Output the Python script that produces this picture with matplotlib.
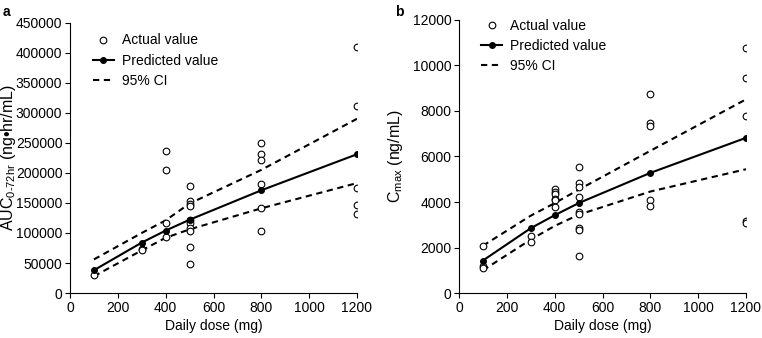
import matplotlib
matplotlib.use("Agg")
import matplotlib.pyplot as plt

plt.rcParams['font.family'] = ['Liberation Sans', 'DejaVu Sans']
plt.rcParams['mathtext.fontset'] = 'custom'
plt.rcParams['mathtext.rm'] = 'Liberation Sans'
plt.rcParams['font.size'] = 10

# dose levels for the model lines
doses = [100, 300, 400, 500, 800, 1200]

# panel a: AUC
auc_x = [100,
         300, 300,
         400, 400, 400, 400,
         500, 500, 500, 500, 500, 500, 500, 500, 500, 500,
         800, 800, 800, 800, 800, 800,
         1200, 1200, 1200, 1200, 1200]
auc_y = [30000,
         73000, 71000,
         236000, 204000, 117000, 93000,
         178000, 153000, 149000, 145000, 121000, 117000, 108000, 104000, 77000, 48000,
         250000, 231000, 221000, 181000, 142000, 104000,
         409000, 312000, 175000, 147000, 131000]
auc_pred = [38000, 84000, 104000, 122000, 171000, 231000]
auc_upper = [56000, 100000, 121000, 149000, 205000, 290000]
auc_lower = [28000, 71000, 92000, 106000, 141000, 183000]

# panel b: Cmax
cmax_x = [100, 100, 100,
          300, 300,
          400, 400, 400, 400, 400, 400,
          500, 500, 500, 500, 500, 500, 500, 500, 500,
          800, 800, 800, 800, 800,
          1200, 1200, 1200, 1200, 1200]
cmax_y = [2080, 1170, 1100,
          2490, 2240,
          4560, 4460, 4350, 4150, 4100, 3790,
          5560, 4830, 4640, 4240, 3570, 3490, 2850, 2750, 1620,
          8730, 7490, 7320, 4100, 3830,
          10780, 9440, 7770, 3160, 3070]
cmax_pred = [1430, 2850, 3420, 3950, 5280, 6820]
cmax_upper = [2080, 3400, 3950, 4540, 6250, 8510]
cmax_lower = [1000, 2350, 2950, 3440, 4460, 5440]

fig = plt.figure(figsize=(7.62, 3.38), dpi=100)
ax1 = fig.add_axes([0.0919, 0.133, 0.3766, 0.8])
ax2 = fig.add_axes([0.6024, 0.133, 0.3766, 0.808])


def draw_panel(ax, x, y, pred, upper, lower, anchor):
    ax.plot(x, y, 'o', mfc='white', mec='black', mew=0.8, ms=4.8, ls='none',
            label='Actual value', zorder=3)
    ax.plot(doses, pred, '-o', color='black', lw=1.5, ms=4, label='Predicted value', zorder=4)
    ax.plot(doses, upper, '--', color='black', lw=1.5, dashes=(3, 2.2), label='95% CI')
    ax.plot(doses, lower, '--', color='black', lw=1.5, dashes=(3, 2.2))
    ax.spines['top'].set_visible(False)
    ax.spines['right'].set_visible(False)
    for sp in ax.spines.values():
        sp.set_linewidth(0.8)
    ax.tick_params(direction='out', length=3.5, width=0.8, labelsize=10, pad=2)
    ax.set_xlim(0, 1200)
    ax.set_xticks([0, 200, 400, 600, 800, 1000, 1200])
    ax.set_xlabel('Daily dose (mg)', fontsize=10, labelpad=3)
    ax.legend(loc='upper left', bbox_to_anchor=anchor, frameon=False, fontsize=10,
              handlelength=1.5, handletextpad=0.6, labelspacing=0.45,
              borderpad=0, borderaxespad=0)


draw_panel(ax1, auc_x, auc_y, auc_pred, auc_upper, auc_lower, (0.08, 0.96))
ax1.set_ylim(0, 450000)
ax1.set_yticks(range(0, 450001, 50000))
ax1.set_ylabel(r'AUC$_{\mathregular{0\text{-}72hr}}$ (ng•hr/mL)', fontsize=11.5)
ax1.yaxis.set_label_coords(-0.183, 0.5)

draw_panel(ax2, cmax_x, cmax_y, cmax_pred, cmax_upper, cmax_lower, (0.077, 1.004))
ax2.set_ylim(0, 12000)
ax2.set_yticks(range(0, 12001, 2000))
ax2.set_ylabel(r'C$_{\mathregular{max}}$ (ng/mL)', fontsize=11.5)
ax2.yaxis.set_label_coords(-0.19, 0.5)

fig.text(0.004, 0.985, 'a', fontsize=10, fontweight='bold', va='top')
fig.text(0.519, 0.985, 'b', fontsize=10, fontweight='bold', va='top')

fig.savefig('out.png', dpi=100)
